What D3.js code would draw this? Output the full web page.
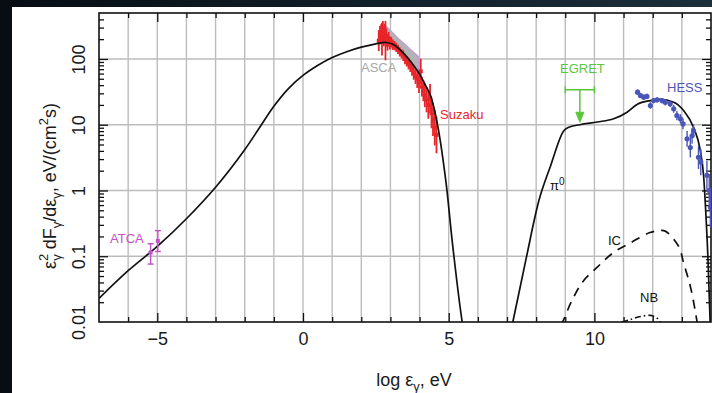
<!DOCTYPE html>
<html>
<head>
<meta charset="utf-8">
<script src="https://cdn.jsdelivr.net/npm/d3@7"></script>
<style>
  html, body { margin: 0; padding: 0; background: #0b151d; }
  svg { display: block; font-family: "Liberation Sans", Arial, Helvetica, sans-serif; }
</style>
</head>
<body>
<div id="chart"></div>
<script>
// ---- data (x = log eps, eV ; y = eps^2 dF/deps, eV/(cm^2 s)) ----
const xTickLabels = [-5, 0, 5, 10];
const yTickLabels = [0.01, 0.1, 1, 10, 100];

// model: synchrotron branch
const synchX = [-7.0, -6.0, -5.0, -4.0, -3.0, -2.0, -1.5, -1.0, -0.5, 0.0, 0.5, 1.0, 1.5, 2.0, 2.5, 2.85, 3.1, 3.42, 3.7, 3.97, 4.2, 4.38, 4.62, 4.9, 5.14, 5.5, 5.7];
const synchY = [0.0229, 0.0603, 0.141, 0.372, 1.12, 4.17, 8.91, 19.1, 35.5, 56.2, 79.4, 105, 129, 151, 170, 178, 166, 126, 91, 62, 40, 27.5, 9.8, 1.41, 0.141, 0.0079, 0.0032];

// model: pi0 decay branch
const pionX = [7.05, 7.2, 7.64, 8.09, 8.5, 8.95, 9.1, 9.5, 10.1, 10.66, 11.12, 11.46, 11.92, 12.26, 12.72, 13.06, 13.4, 13.63, 13.75, 13.8, 13.9, 13.97, 14.0];
const pionY = [0.005, 0.01, 0.085, 0.69, 2.4, 8.1, 9.1, 10, 11, 12.3, 15.5, 20.3, 23.3, 24.3, 22, 16.4, 9.1, 4.1, 1.6, 0.69, 0.083, 0.01, 0.005];

// model: inverse Compton (dashed)
const icX = [8.85, 8.95, 9.2, 9.6, 10.11, 10.63, 11.26, 11.88, 12.2, 12.43, 12.89, 13.06, 13.29, 13.45, 13.53];
const icY = [0.009, 0.011, 0.02, 0.041, 0.069, 0.112, 0.162, 0.227, 0.245, 0.241, 0.141, 0.079, 0.035, 0.0155, 0.0095];

// model: non-thermal bremsstrahlung (dash-dot)
const nbX = [10.95, 11.23, 11.58, 11.92, 12.12, 12.26, 12.32];
const nbY = [0.0100, 0.0109, 0.0121, 0.0126, 0.0117, 0.0101, 0.0094];

// ATCA radio points
const atcaX = [-5.23, -4.98];
const atcaY = [0.114, 0.171];
const atcaLo = [0.076, 0.118];
const atcaHi = [0.155, 0.245];

// ASCA band
const ascaX = [2.75, 3.3, 3.97];
const ascaHi = [350, 200, 108];
const ascaLo = [170, 128, 62];

// Suzaku points, error in dex
const suzakuX = [2.60, 2.64, 2.68, 2.71, 2.74, 2.77, 2.80, 2.83, 2.86, 2.90, 2.94, 2.98, 3.03, 3.08, 3.14, 3.20, 3.26, 3.32, 3.38, 3.44, 3.50, 3.56, 3.62, 3.68, 3.74, 3.80, 3.86, 3.92, 3.98, 4.04, 4.08, 4.13, 4.18, 4.24, 4.30, 4.36, 4.41, 4.46, 4.52, 4.58];
const suzakuY = [190, 230, 250, 200, 280, 220, 260, 190, 210, 180, 200, 175, 180, 165, 160, 150, 140, 128, 120, 112, 100, 92, 85, 78, 70, 62, 55, 50, 44, 65, 38, 33, 28, 24, 20, 25, 15, 12, 9, 7];
const suzakuErr = [0.16, 0.14, 0.13, 0.25, 0.13, 0.15, 0.12, 0.3, 0.14, 0.13, 0.11, 0.1, 0.08, 0.08, 0.07, 0.07, 0.07, 0.07, 0.07, 0.08, 0.08, 0.08, 0.09, 0.09, 0.1, 0.11, 0.12, 0.14, 0.16, 0.19, 0.15, 0.16, 0.18, 0.19, 0.21, 0.22, 0.23, 0.25, 0.27, 0.28];

// EGRET upper limit
const egretX = [9.0, 10.0];
const egretY = 34;
const egretArrowTo = 10.9;

// HESS points, error in dex
const hessX = [11.48, 11.58, 11.69, 11.80, 11.92, 12.03, 12.15, 12.32, 12.43, 12.60, 12.72, 12.83, 12.95, 13.04, 13.18, 13.29, 13.35, 13.40, 13.57, 13.65, 13.86, 13.94, 13.98];
const hessY = [31.3, 27.8, 26.2, 26.9, 19.6, 23.3, 23.9, 23.3, 22.0, 20.8, 17.5, 13.8, 12.3, 10.3, 6.1, 4.5, 6.8, 8.1, 3.2, 2.7, 1.7, 1.0, 0.55];
const hessErr = [0.04, 0.04, 0.04, 0.04, 0.05, 0.04, 0.04, 0.04, 0.05, 0.05, 0.06, 0.07, 0.07, 0.08, 0.12, 0.15, 0.12, 0.1, 0.18, 0.2, 0.22, 0.25, 0.3];

// ---- layout ----
const W = 712, H = 393;
const margin = { top: 13, left: 99 };
const width = 612, height = 309;

const svg = d3.select('#chart').append('svg')
  .attr('width', W)
  .attr('height', H);

// dark backdrop + white page
const bg = svg.append('defs').append('linearGradient')
  .attr('id', 'bg').attr('x1', 0).attr('x2', 1).attr('y1', 0).attr('y2', 0);
bg.append('stop').attr('offset', '0%').attr('stop-color', '#070d12');
bg.append('stop').attr('offset', '60%').attr('stop-color', '#13222c');
bg.append('stop').attr('offset', '100%').attr('stop-color', '#1c2f3a');
svg.append('rect').attr('width', W).attr('height', H).attr('fill', 'url(#bg)');
svg.append('rect').attr('x', 12).attr('y', 7).attr('width', W - 12).attr('height', H - 7).attr('fill', '#ffffff');

svg.select('defs').append('clipPath').attr('id', 'plotclip')
  .append('rect').attr('width', width).attr('height', height);

const g = svg.append('g').attr('transform', 'translate(' + margin.left + ',' + margin.top + ')');

const x = d3.scaleLinear().domain([-7, 14]).range([0, width]);
const y = d3.scaleLog().domain([0.01, 500]).range([height, 0]);

// grid
const gridX = d3.range(-6, 14);
const gridY = [0.1, 1, 10, 100];
g.append('g').selectAll('line').data(gridX).enter().append('line')
  .attr('x1', d => x(d)).attr('x2', d => x(d))
  .attr('y1', 0).attr('y2', height)
  .attr('stroke', '#bcbcbc').attr('stroke-width', 1.4);
g.append('g').selectAll('line').data(gridY).enter().append('line')
  .attr('x1', 0).attr('x2', width)
  .attr('y1', d => y(d)).attr('y2', d => y(d))
  .attr('stroke', '#bcbcbc').attr('stroke-width', 1.4);

// ticks on all four sides, pointing inward
const minorX = gridX.filter(d => d % 5 !== 0);
const majorX = gridX.filter(d => d % 5 === 0);
const minorY = [];
for (let e = -2; e <= 2; e++) {
  for (let k = 2; k <= 9; k++) {
    const v = k * Math.pow(10, e);
    if (v < 500) minorY.push(v);
  }
}
const majorY = [0.1, 1, 10, 100];

function tickAxis(axisFn, scale, values, size, transform) {
  const a = g.append('g')
    .attr('transform', transform || null)
    .call(axisFn(scale).tickValues(values).tickSize(-size).tickFormat(''));
  a.select('.domain').remove();
  a.selectAll('line').attr('stroke', '#111').attr('stroke-width', 1.3);
  return a;
}
tickAxis(d3.axisBottom, x, minorX, 5, 'translate(0,' + height + ')');
tickAxis(d3.axisBottom, x, majorX, 9, 'translate(0,' + height + ')');
tickAxis(d3.axisTop, x, minorX, 5);
tickAxis(d3.axisTop, x, majorX, 9);
tickAxis(d3.axisLeft, y, minorY, 5);
tickAxis(d3.axisLeft, y, majorY, 9);
tickAxis(d3.axisRight, y, minorY, 5, 'translate(' + width + ',0)');
tickAxis(d3.axisRight, y, majorY, 9, 'translate(' + width + ',0)');

// tick labels
const xLab = g.append('g')
  .attr('transform', 'translate(0,' + height + ')')
  .call(d3.axisBottom(x).tickValues(xTickLabels).tickSize(0).tickPadding(10));
xLab.select('.domain').remove();
xLab.selectAll('text').attr('font-size', '18px').attr('fill', '#1a1a1a')
  .attr('font-family', '"Liberation Sans", Arial, sans-serif');

const yLab = g.append('g')
  .call(d3.axisLeft(y).tickValues(yTickLabels).tickSize(0)
    .tickFormat(d => d >= 1 ? d3.format('d')(d) : String(d)));
yLab.select('.domain').remove();
yLab.selectAll('text')
  .attr('x', 0).attr('dy', 0)
  .attr('transform', 'translate(-14,0) rotate(-90)')
  .style('text-anchor', 'middle')
  .attr('font-size', '18px').attr('fill', '#1a1a1a')
  .attr('font-family', '"Liberation Sans", Arial, sans-serif');

// frame
g.append('rect').attr('width', width).attr('height', height)
  .attr('fill', 'none').attr('stroke', '#111').attr('stroke-width', 1.6);

// ---- marks ----
const plot = g.append('g').attr('clip-path', 'url(#plotclip)');
const line = d3.line().x(d => x(d[0])).y(d => y(d[1])).curve(d3.curveMonotoneX);
const smooth = d3.line().x(d => x(d[0])).y(d => y(d[1])).curve(d3.curveCatmullRom);

// ASCA band
const ascaPoly = ascaX.map((d, i) => [d, ascaHi[i]]).concat(ascaX.map((d, i) => [d, ascaLo[i]]).reverse());
plot.append('path')
  .attr('d', d3.line().x(d => x(d[0])).y(d => y(d[1]))(ascaPoly) + 'Z')
  .attr('fill', '#b3b3b6').attr('stroke', '#c49ad8').attr('stroke-width', 1.2);

// Suzaku
const suz = plot.append('g');
suzakuX.forEach((d, i) => {
  const lo = suzakuY[i] / Math.pow(10, suzakuErr[i]);
  const hi = suzakuY[i] * Math.pow(10, suzakuErr[i]);
  suz.append('line')
    .attr('x1', x(d)).attr('x2', x(d))
    .attr('y1', y(lo)).attr('y2', y(hi))
    .attr('stroke', '#e8262a').attr('stroke-width', 1.8);
  suz.append('rect')
    .attr('x', x(d) - 2).attr('y', y(suzakuY[i]) - 2)
    .attr('width', 4).attr('height', 4).attr('fill', '#e8262a');
});

// model curves
plot.append('path').datum(synchX.map((d, i) => [d, synchY[i]]))
  .attr('d', smooth).attr('fill', 'none').attr('stroke', '#111').attr('stroke-width', 1.7);
plot.append('path').datum(pionX.map((d, i) => [d, pionY[i]]))
  .attr('d', line).attr('fill', 'none').attr('stroke', '#111').attr('stroke-width', 1.7);
plot.append('path').datum(icX.map((d, i) => [d, icY[i]]))
  .attr('d', smooth)
  .attr('fill', 'none').attr('stroke', '#111').attr('stroke-width', 1.7)
  .attr('stroke-dasharray', '9,7');
plot.append('path').datum(nbX.map((d, i) => [d, nbY[i]]))
  .attr('d', smooth)
  .attr('fill', 'none').attr('stroke', '#111').attr('stroke-width', 1.6)
  .attr('stroke-dasharray', '6,3,1.5,3');

// ATCA
const atca = plot.append('g').attr('stroke', '#c64fc8').attr('stroke-width', 1.4);
atcaX.forEach((d, i) => {
  atca.append('line').attr('x1', x(d)).attr('x2', x(d)).attr('y1', y(atcaLo[i])).attr('y2', y(atcaHi[i]));
  atca.append('line').attr('x1', x(d) - 3).attr('x2', x(d) + 3).attr('y1', y(atcaLo[i])).attr('y2', y(atcaLo[i]));
  atca.append('line').attr('x1', x(d) - 3).attr('x2', x(d) + 3).attr('y1', y(atcaHi[i])).attr('y2', y(atcaHi[i]));
  atca.append('rect').attr('x', x(d) - 2).attr('y', y(atcaY[i]) - 2).attr('width', 4).attr('height', 4)
    .attr('fill', '#c64fc8').attr('stroke', 'none');
});

// EGRET upper limit
const egret = plot.append('g').attr('stroke', '#5cc63a').attr('stroke-width', 1.5).attr('fill', '#5cc63a');
const egretMid = (egretX[0] + egretX[1]) / 2;
egret.append('line').attr('x1', x(egretX[0])).attr('x2', x(egretX[1])).attr('y1', y(egretY)).attr('y2', y(egretY));
egretX.forEach(d => {
  egret.append('line').attr('x1', x(d)).attr('x2', x(d)).attr('y1', y(egretY) - 3.5).attr('y2', y(egretY) + 3.5);
});
egret.append('line').attr('x1', x(egretMid)).attr('x2', x(egretMid))
  .attr('y1', y(egretY)).attr('y2', y(egretArrowTo) - 8);
egret.append('path')
  .attr('d', 'M' + (x(egretMid) - 4) + ',' + (y(egretArrowTo) - 10) +
    'L' + (x(egretMid) + 4) + ',' + (y(egretArrowTo) - 10) +
    'L' + x(egretMid) + ',' + y(egretArrowTo) + 'Z')
  .attr('stroke-width', 1);

// HESS
const hess = plot.append('g');
hessX.forEach((d, i) => {
  const lo = hessY[i] / Math.pow(10, hessErr[i]);
  const hi = hessY[i] * Math.pow(10, hessErr[i]);
  hess.append('line')
    .attr('x1', x(d)).attr('x2', x(d))
    .attr('y1', y(lo)).attr('y2', y(hi))
    .attr('stroke', '#4a55b8').attr('stroke-width', 1.4);
  hess.append('circle')
    .attr('cx', x(d)).attr('cy', y(hessY[i])).attr('r', 2.6)
    .attr('fill', '#4a55b8');
});

// ---- annotations ----
const ann = svg.append('g').attr('font-family', '"Liberation Sans", Arial, sans-serif').attr('font-size', '13px');
ann.append('text').attr('x', 110).attr('y', 243).attr('fill', '#c64fc8').text('ATCA');
ann.append('text').attr('x', 361).attr('y', 72).attr('fill', '#a9a9a9').text('ASCA');
ann.append('text').attr('x', 440).attr('y', 119).attr('fill', '#e8262a').text('Suzaku');
ann.append('text').attr('x', 560).attr('y', 73).attr('fill', '#5cc63a').text('EGRET');
ann.append('text').attr('x', 667).attr('y', 92).attr('fill', '#4a55b8').text('HESS');
ann.append('text').attr('x', 608).attr('y', 245).attr('fill', '#111').text('IC');
ann.append('text').attr('x', 640).attr('y', 302).attr('fill', '#111').text('NB');
const pi = ann.append('text').attr('x', 550).attr('y', 190).attr('fill', '#111');
pi.append('tspan').text('π');
pi.append('tspan').attr('dy', -5).attr('font-size', '10px').text('0');

// axis titles
const xt = svg.append('text')
  .attr('x', 414).attr('y', 386)
  .attr('text-anchor', 'middle')
  .attr('font-size', '18px').attr('fill', '#1a1a1a');
xt.append('tspan').text('log ε');
xt.append('tspan').attr('dy', 5).attr('font-size', '13px').text('γ');
xt.append('tspan').attr('dy', -5).text(', eV');

const yt = svg.append('text')
  .attr('transform', 'translate(56,186) rotate(-90)')
  .attr('text-anchor', 'middle')
  .attr('font-size', '18px').attr('fill', '#1a1a1a');
yt.append('tspan').text('ε');
yt.append('tspan').attr('dy', -8).attr('font-size', '13px').text('2');
yt.append('tspan').attr('dx', -7).attr('dy', 13).attr('font-size', '13px').text('γ');
yt.append('tspan').attr('dy', -5).text(' dF');
yt.append('tspan').attr('dy', 5).attr('font-size', '13px').text('γ');
yt.append('tspan').attr('dy', -5).text('/dε');
yt.append('tspan').attr('dy', 5).attr('font-size', '13px').text('γ');
yt.append('tspan').attr('dy', -5).text(',  eV/(cm');
yt.append('tspan').attr('dy', -8).attr('font-size', '13px').text('2');
yt.append('tspan').attr('dy', 8).text('s)');
</script>
</body>
</html>
